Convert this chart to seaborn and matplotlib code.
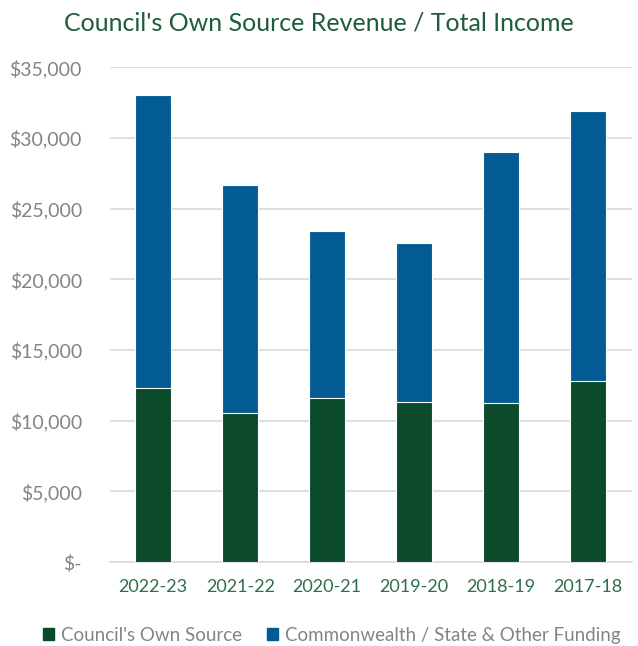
import matplotlib
matplotlib.use("Agg")
import matplotlib.pyplot as plt
import matplotlib.ticker as mticker
from matplotlib.patches import Patch
import seaborn as sns
import pandas as pd

years = ["2022-23", "2021-22", "2020-21", "2019-20", "2018-19", "2017-18"]
own_source = [12280, 10510, 11620, 11315, 11215, 12770]
other_funding = [20770, 16150, 11790, 11265, 17805, 19100]

GREEN = "#0b4a2a"
BLUE = "#035b93"
TITLE_C = "#1e5c3a"
XLAB_C = "#2f6e4c"
GRAY = "#848484"

sns.set_theme(style="white")
plt.rcParams["font.family"] = ["Lato", "DejaVu Sans"]

df = pd.DataFrame({"year": years, "own": own_source, "other": other_funding})
df["total"] = df["own"] + df["other"]

fig = plt.figure(figsize=(6.38, 6.46), dpi=100)
ax = fig.add_axes([0.172, 0.130, 0.818, 0.766])

sns.barplot(data=df, x="year", y="total", color=BLUE, width=0.41,
            edgecolor="white", linewidth=0.8, saturation=1, ax=ax, zorder=3)
sns.barplot(data=df, x="year", y="own", color=GREEN, width=0.41,
            edgecolor="white", linewidth=0.8, saturation=1, ax=ax, zorder=4)

ax.set_ylim(0, 35000)
ax.set_xlim(-0.5, len(years) - 0.5)
ax.yaxis.set_major_locator(mticker.MultipleLocator(5000))
ax.yaxis.set_major_formatter(mticker.FuncFormatter(
    lambda v, p: "$-" if v == 0 else f"${v:,.0f}"))
ax.grid(axis="y", color="#d9d9d9", linewidth=1.2, zorder=0)
ax.set_axisbelow(True)
for s in ["top", "right", "left"]:
    ax.spines[s].set_visible(False)
ax.spines["bottom"].set_color("#d9d9d9")
ax.spines["bottom"].set_linewidth(1.2)
ax.set_xlabel("")
ax.set_ylabel("")
ax.tick_params(axis="y", colors=GRAY, labelsize=14, length=0, pad=20)
ax.tick_params(axis="x", colors=XLAB_C, labelsize=13, length=0, pad=12)
for t in ax.get_yticklabels():
    t.set_color(GRAY)

fig.text(0.5, 0.965, "Council's Own Source Revenue / Total Income",
         ha="center", va="center", fontsize=18, color=TITLE_C)

handles = [Patch(color=GREEN, label="Council's Own Source"),
           Patch(color=BLUE, label="Commonwealth / State & Other Funding")]
leg = fig.legend(handles=handles, loc="center", bbox_to_anchor=(0.52, 0.017),
                 ncol=2, frameon=False, fontsize=13.5, handlelength=0.6,
                 handleheight=0.6, handletextpad=0.4, columnspacing=1.3)
for t in leg.get_texts():
    t.set_color(GRAY)

fig.savefig("out.png", dpi=100)
